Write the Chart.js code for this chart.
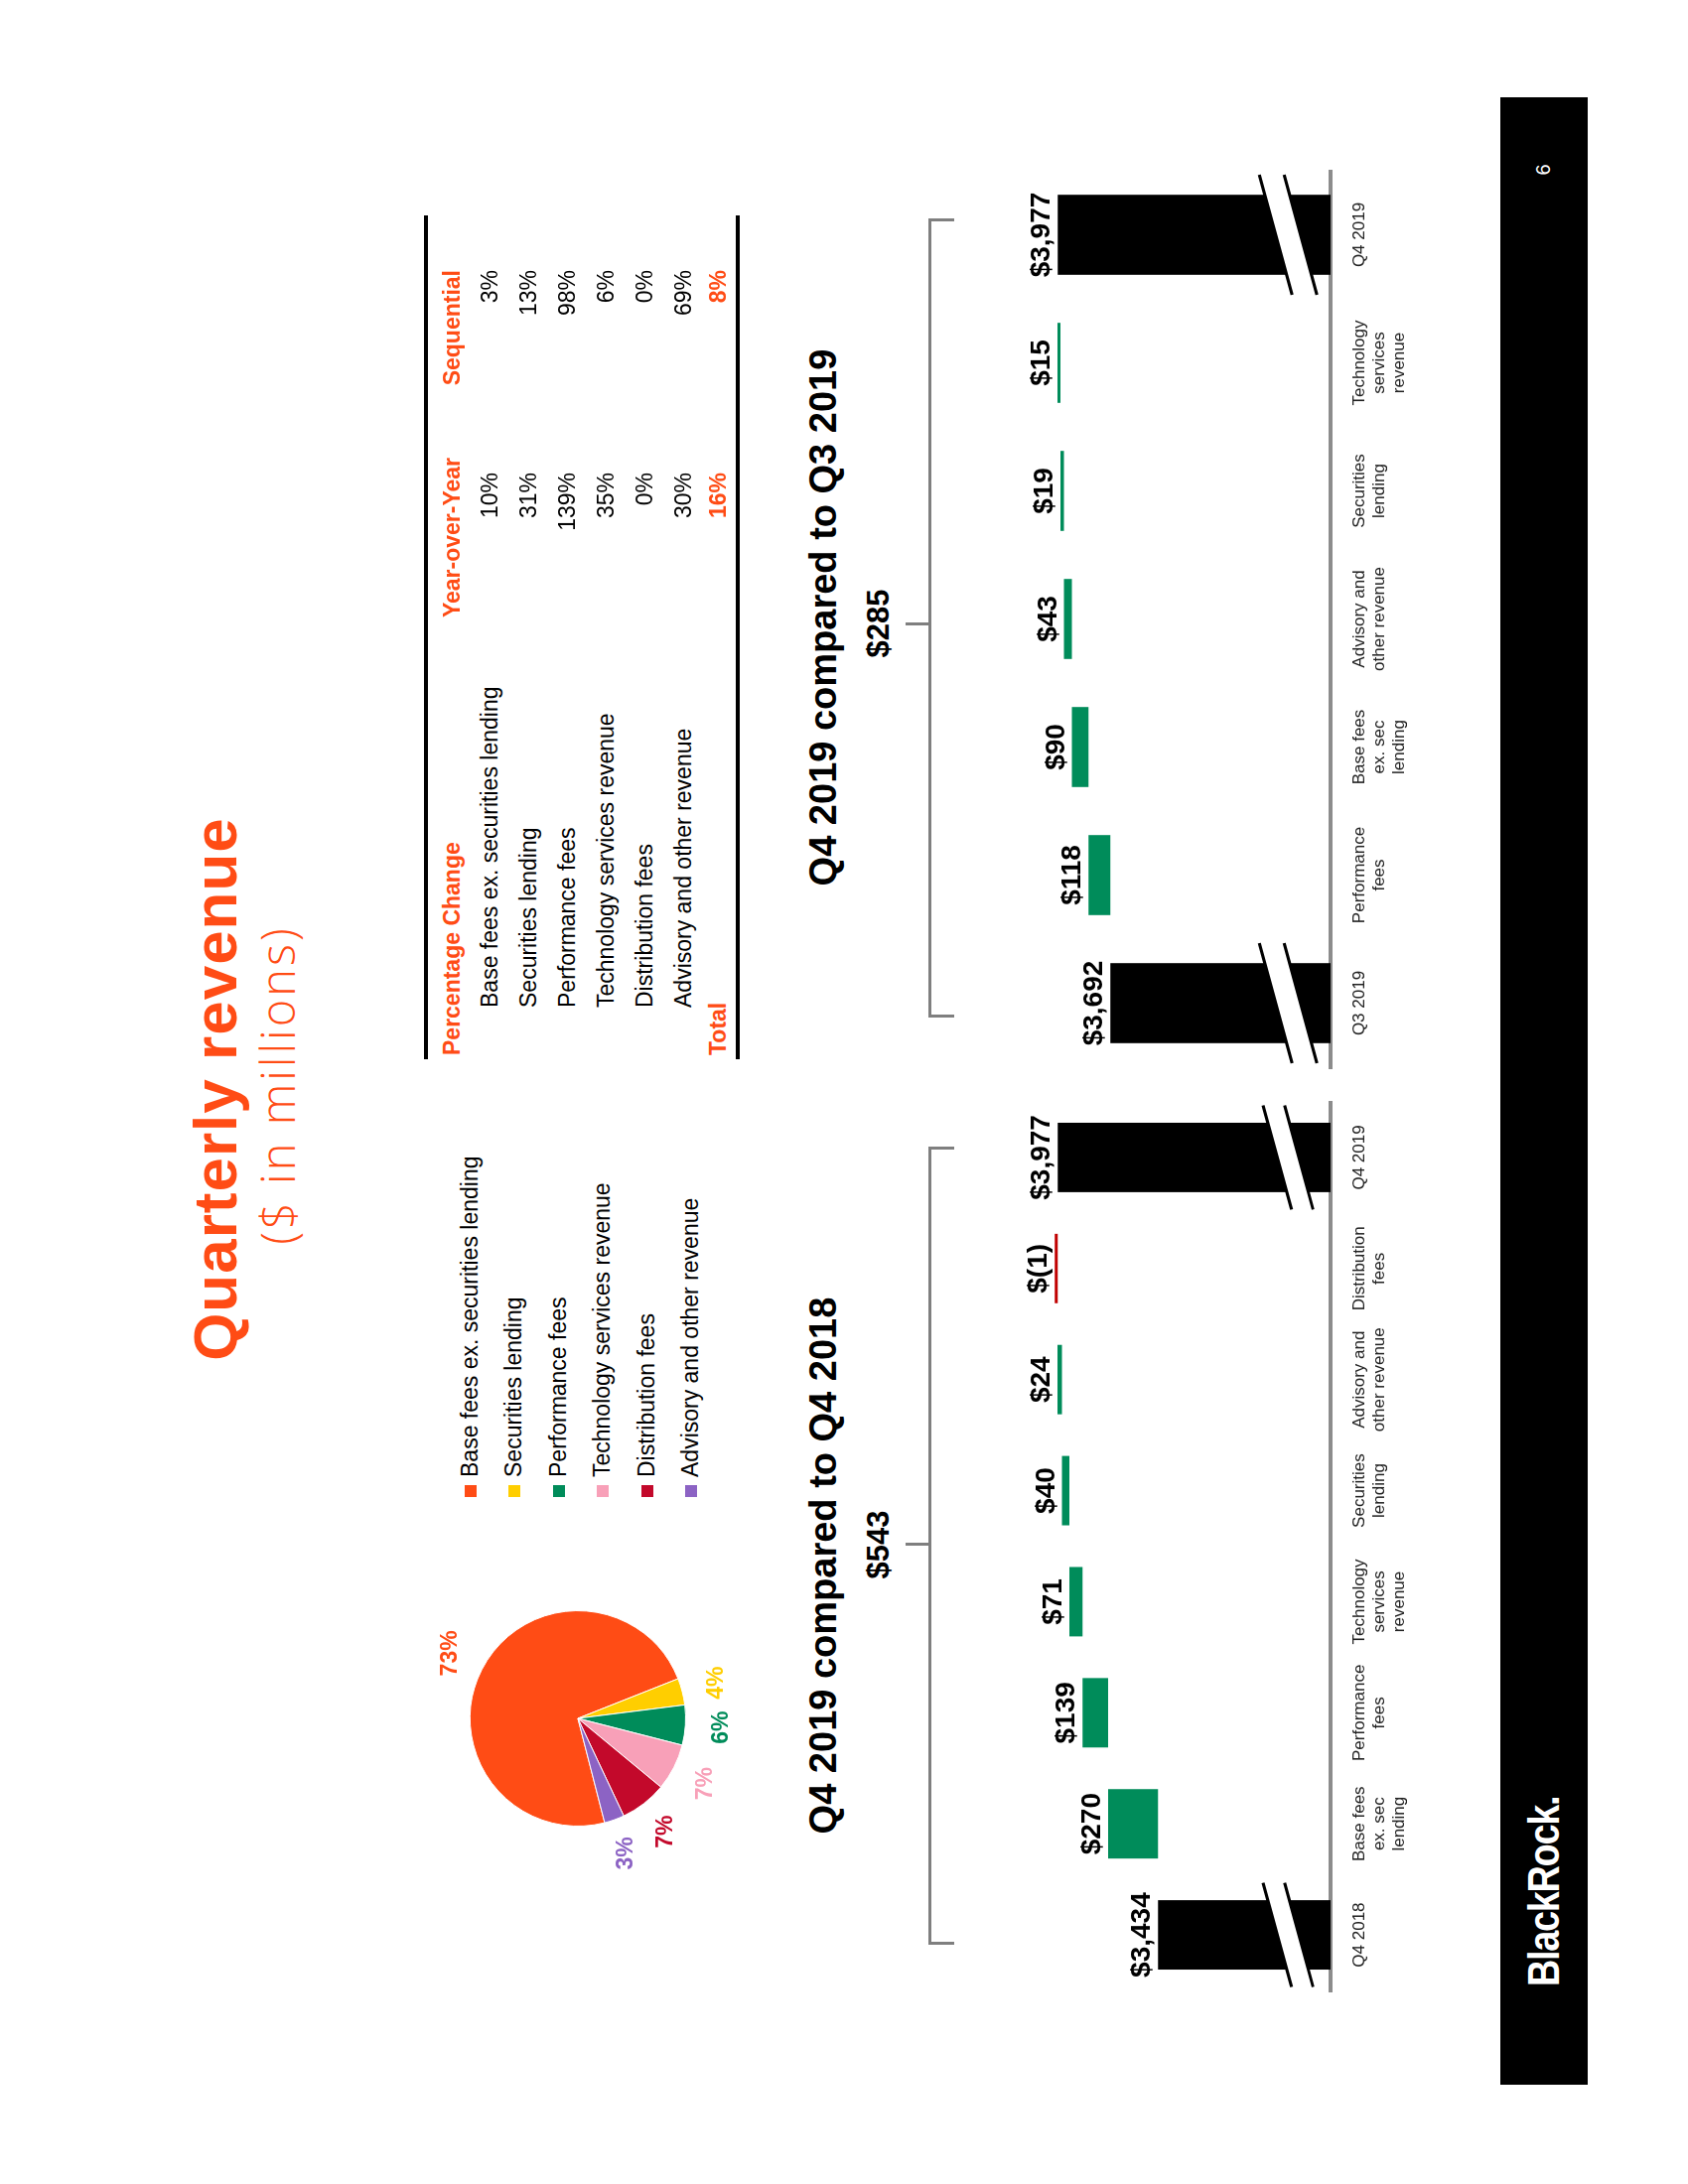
<!DOCTYPE html>
<html>
<head>
<meta charset="utf-8">
<script src="https://cdn.jsdelivr.net/npm/chart.js@4.4.0/dist/chart.umd.min.js"></script>
<style>
body { margin: 0; background: #fff; }
#page { position: relative; width: 1700px; height: 2200px; overflow: hidden; background: #fff; }
/* the slide is landscape, turned a quarter left onto the portrait page */
#slide { position: absolute; left: 0; top: 0; width: 2200px; height: 1700px; transform-origin: 0 0;
         transform: translate(0, 2200px) rotate(-90deg); font-family: "Liberation Sans", Arial, sans-serif; color: #000; }
.a { position: absolute; white-space: nowrap; line-height: 1; }
.ln { position: absolute; background: #7f7f7f; }
canvas { position: absolute; }
</style>
</head>
<body>
<div id="page"><div id="slide">
  <div class="a" style="left:0;width:2206px;top:186px;text-align:center;font-weight:bold;font-size:62px;letter-spacing:1px;color:#ff4c15">Quarterly revenue</div>
  <div class="a" style="left:0;width:2214px;top:256px;text-align:center;font-family:'Open Sans',sans-serif;font-weight:300;font-size:47px;letter-spacing:3px;color:#ff4c15">($ in millions)</div>

  <canvas id="mix" width="340" height="340" style="left:299px;top:412px"></canvas>
  <div id="legend"></div>
  <div id="table"></div>

  <div class="a" style="left:223px;width:800px;top:810px;text-align:center;font-weight:bold;font-size:38px">Q4 2019 compared to Q4 2018</div>
  <div class="a" id="yoyTotal" style="left:444px;width:400px;top:869px;text-align:center;font-weight:bold;font-size:31px"></div>
  <div class="ln" style="left:242px;top:935px;width:802px;height:3px"></div>
  <div class="ln" style="left:241px;top:935px;width:3px;height:26px"></div>
  <div class="ln" style="left:1042px;top:935px;width:3px;height:26px"></div>
  <div class="ln" style="left:643px;top:912px;width:3px;height:25px"></div>

  <div class="a" style="left:1178px;width:800px;top:810px;text-align:center;font-weight:bold;font-size:38px">Q4 2019 compared to Q3 2019</div>
  <div class="a" id="qoqTotal" style="left:1372px;width:400px;top:869px;text-align:center;font-weight:bold;font-size:31px"></div>
  <div class="ln" style="left:1176px;top:935px;width:804px;height:3px"></div>
  <div class="ln" style="left:1175px;top:935px;width:3px;height:26px"></div>
  <div class="ln" style="left:1977px;top:935px;width:3px;height:26px"></div>
  <div class="ln" style="left:1570px;top:912px;width:3px;height:25px"></div>

  <canvas id="yoy" width="980" height="450" style="left:150px;top:980px"></canvas>
  <canvas id="qoq" width="990" height="450" style="left:1080px;top:980px"></canvas>

  <div style="position:absolute;left:100px;top:1511px;width:2002px;height:88px;background:#000"></div>
  <div class="a" style="left:199px;top:1533px;font-weight:bold;font-size:44px;letter-spacing:-1.5px;color:#fff;transform:scaleX(0.86);transform-origin:0 0">BlackRock.</div>
  <div class="a" style="left:1929px;width:200px;top:1544px;text-align:center;font-size:20px;color:#fff">6</div>
</div></div>

<script>
// revenue mix, Q4 2019
var mixLabels = ['Base fees ex. securities lending', 'Securities lending', 'Performance fees',
                 'Technology services revenue', 'Distribution fees', 'Advisory and other revenue'];
var mixShares = [73, 4, 6, 7, 7, 3];
var mixColors = ['#ff4c15', '#ffce00', '#008c5a', '#f8a0b8', '#c3092b', '#8c63c4'];

// percentage change table
var changeRows = ['Base fees ex. securities lending', 'Securities lending', 'Performance fees',
                  'Technology services revenue', 'Distribution fees', 'Advisory and other revenue'];
var changeYoy = [10, 31, 139, 35, 0, 30];
var changeSeq = [3, 13, 98, 6, 0, 69];
var totalYoy = 16;
var totalSeq = 8;

// Q4 2019 vs Q4 2018 bridge
var yoyCats = [['Q4 2018'], ['Base fees', 'ex. sec', 'lending'], ['Performance', 'fees'],
               ['Technology', 'services', 'revenue'], ['Securities', 'lending'],
               ['Advisory and', 'other revenue'], ['Distribution', 'fees'], ['Q4 2019']];
var yoyStart = 3434;
var yoyChanges = [270, 139, 71, 40, 24, -1];
var yoyEnd = 3977;
var yoyDiff = 543;

// Q4 2019 vs Q3 2019 bridge
var qoqCats = [['Q3 2019'], ['Performance', 'fees'], ['Base fees', 'ex. sec', 'lending'],
               ['Advisory and', 'other revenue'], ['Securities', 'lending'],
               ['Technology', 'services', 'revenue'], ['Q4 2019']];
var qoqStart = 3692;
var qoqChanges = [118, 90, 43, 19, 15];
var qoqEnd = 3977;
var qoqDiff = 285;

// broken value axis
var AXIS_FLOOR = 2500;
var AXIS_CEIL = 4000;
var BREAK_AT = 2730;

var ORANGE = '#ff4c15';
var FONT = '"Liberation Sans", Arial, sans-serif';
Chart.defaults.font.family = FONT;

function money(v) {
    if (v < 0) return '$(' + Math.abs(v).toLocaleString('en-US') + ')';
    return '$' + v.toLocaleString('en-US');
}

function waterfall(start, changes, end) {
    var ranges = [[AXIS_FLOOR, start]];
    var colors = ['#000'];
    var texts = [money(start)];
    var run = start;
    changes.forEach(function (c) {
        ranges.push([run, run + c]);
        colors.push(c < 0 ? '#c00000' : '#008c5a');
        texts.push(money(c));
        run += c;
    });
    ranges.push([AXIS_FLOOR, end]);
    colors.push('#000');
    texts.push(money(end));
    return { ranges: ranges, colors: colors, texts: texts };
}

// axis break marks on the total bars, then the value over each bar
var barDecor = {
    id: 'barDecor',
    afterDatasetsDraw: function (chart) {
        var ctx = chart.ctx;
        var meta = chart.getDatasetMeta(0);
        var ds = chart.data.datasets[0];
        var yb = chart.scales.y.getPixelForValue(BREAK_AT);
        ctx.save();
        [0, meta.data.length - 1].forEach(function (i) {
            var bar = meta.data[i];
            var w = bar.width;
            var half = w * 0.75, slant = w * 0.41, gap = w * 0.31;
            var xr = bar.x + half, xl = bar.x - half;
            var r1 = yb - gap / 2 - slant / 2, l1 = r1 + slant;
            var r2 = r1 + gap, l2 = l1 + gap;
            ctx.fillStyle = '#fff';
            ctx.beginPath();
            ctx.moveTo(xr, r1); ctx.lineTo(xl, l1); ctx.lineTo(xl, l2); ctx.lineTo(xr, r2);
            ctx.closePath();
            ctx.fill();
            ctx.strokeStyle = '#000';
            ctx.lineWidth = 3;
            ctx.beginPath();
            ctx.moveTo(xr, r1); ctx.lineTo(xl, l1);
            ctx.moveTo(xr, r2); ctx.lineTo(xl, l2);
            ctx.stroke();
        });
        ctx.font = 'bold 28px ' + FONT;
        ctx.textAlign = 'center';
        ctx.textBaseline = 'alphabetic';
        ctx.fillStyle = '#000';
        meta.data.forEach(function (bar, i) {
            var top = Math.min(bar.y, bar.base);
            ctx.fillText(ds.valueText[i], bar.x, top - 8);
        });
        ctx.restore();
    }
};

function bridge(id, cats, start, changes, end, pad) {
    var wf = waterfall(start, changes, end);
    return new Chart(document.getElementById(id), {
        type: 'bar',
        data: {
            labels: cats,
            datasets: [{
                data: wf.ranges,
                backgroundColor: wf.colors,
                valueText: wf.texts,
                barPercentage: 0.625,
                categoryPercentage: 1,
                minBarLength: 3
            }]
        },
        options: {
            responsive: false,
            animation: false,
            layout: { padding: pad },
            plugins: { legend: { display: false }, tooltip: { enabled: false } },
            scales: {
                x: {
                    grid: { display: false },
                    border: { display: true, color: '#8c8c8c', width: 4 },
                    ticks: { color: '#222', font: { size: 17, lineHeight: 1.18 }, padding: 11, maxRotation: 0, autoSkip: false },
                    afterFit: function (s) { s.height = 90; }
                },
                y: { display: false, min: AXIS_FLOOR, max: AXIS_CEIL }
            }
        },
        plugins: [barDecor]
    });
}

// percent labels just outside each slice
var pieText = {
    id: 'pieText',
    afterDatasetsDraw: function (chart) {
        var ctx = chart.ctx;
        var meta = chart.getDatasetMeta(0);
        var ds = chart.data.datasets[0];
        ctx.save();
        ctx.font = 'bold 23px ' + FONT;
        ctx.textAlign = 'center';
        ctx.textBaseline = 'middle';
        meta.data.forEach(function (arc, i) {
            var a = (arc.startAngle + arc.endAngle) / 2;
            var r = arc.outerRadius + 36;
            ctx.fillStyle = ds.backgroundColor[i];
            ctx.fillText(ds.data[i] + '%', arc.x + Math.cos(a) * r, arc.y + Math.sin(a) * r);
        });
        ctx.restore();
    }
};

new Chart(document.getElementById('mix'), {
    type: 'pie',
    data: {
        labels: mixLabels,
        datasets: [{ data: mixShares, backgroundColor: mixColors, borderColor: '#fff', borderWidth: 1 }]
    },
    options: {
        responsive: false,
        animation: false,
        rotation: 255.6,
        layout: { padding: 61 },
        plugins: { legend: { display: false }, tooltip: { enabled: false } }
    },
    plugins: [pieText]
});

// legend list next to the pie
var legend = document.getElementById('legend');
mixLabels.forEach(function (name, i) {
    var c = 474 + 44.4 * i;
    legend.insertAdjacentHTML('beforeend',
        '<div style="position:absolute;left:692px;top:' + (c - 6) + 'px;width:12px;height:12px;background:' + mixColors[i] + '"></div>' +
        '<div class="a" style="left:712px;top:' + (c - 12) + 'px;font-size:23px">' + name + '</div>');
});

// percentage change table
function cell(text, left, right, top, style) {
    var pos = right ? 'left:0;width:' + right + 'px;text-align:right;' : 'left:' + left + 'px;';
    return '<div class="a" style="' + pos + 'top:' + top + 'px;font-size:23px;' + (style || '') + '">' + text + '</div>';
}
var head = 'font-weight:bold;color:' + ORANGE;
var html = '<div style="position:absolute;left:1133px;top:427px;width:850px;height:4px;background:#000"></div>' +
           '<div style="position:absolute;left:1133px;top:741px;width:850px;height:4px;background:#000"></div>';
html += cell('Percentage Change', 1137, 0, 444, head);
html += cell('Year-over-Year', 0, 1739, 444, head);
html += cell('Sequential', 0, 1928, 444, head);
changeRows.forEach(function (name, i) {
    var top = 482 + 39 * i;
    html += cell(name, 1185, 0, top);
    html += cell(changeYoy[i] + '%', 0, 1724, top);
    html += cell(changeSeq[i] + '%', 0, 1928, top);
});
html += cell('Total', 1137, 0, 712, head);
html += cell(totalYoy + '%', 0, 1724, 712, head);
html += cell(totalSeq + '%', 0, 1928, 712, head);
document.getElementById('table').innerHTML = html;

document.getElementById('yoyTotal').textContent = money(yoyDiff);
document.getElementById('qoqTotal').textContent = money(qoqDiff);

bridge('yoy', yoyCats, yoyStart, yoyChanges, yoyEnd, { top: 81, left: 45, right: 40, bottom: 0 });
bridge('qoq', qoqCats, qoqStart, qoqChanges, qoqEnd, { top: 81, left: 45, right: 42, bottom: 0 });
</script>
</body>
</html>
